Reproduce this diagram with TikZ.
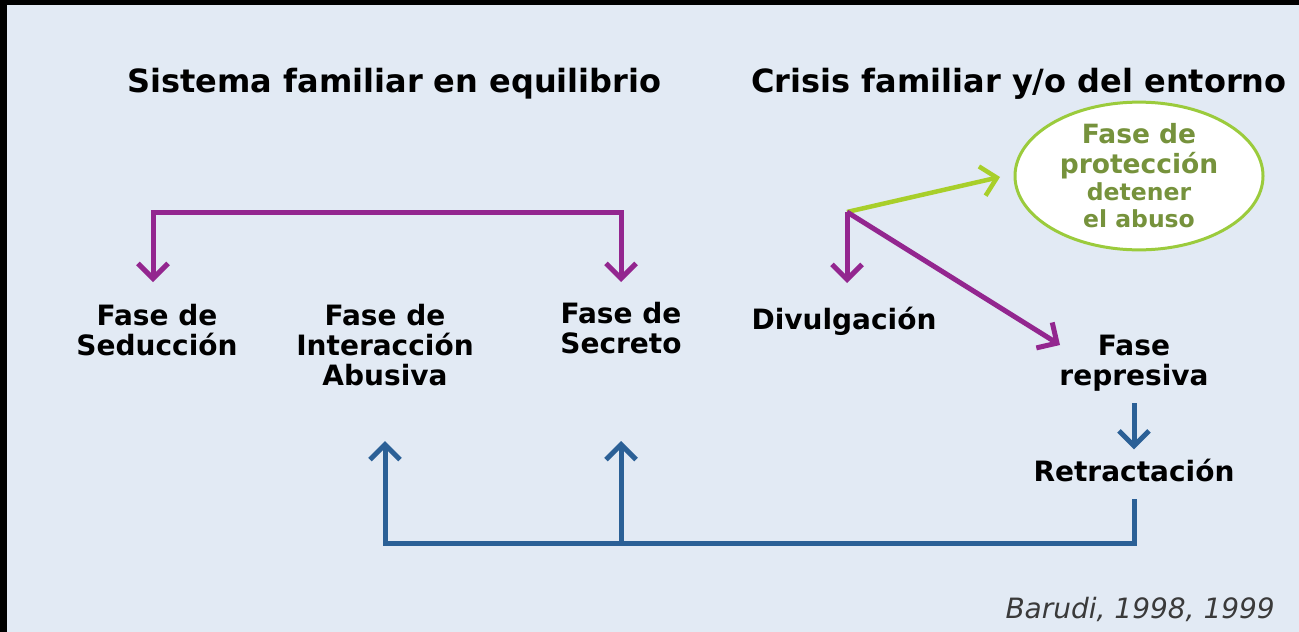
\documentclass[tikz,border=0pt]{standalone}
\usepackage{fontspec}
\setmainfont{DejaVu Sans}
\usetikzlibrary{arrows.meta,shapes.geometric}
\definecolor{bgc}{HTML}{E2EAF4}
\definecolor{purp}{HTML}{93268F}
\definecolor{bluel}{HTML}{2B6096}
\definecolor{limel}{HTML}{A8CF2A}
\definecolor{ellg}{HTML}{9BCB3C}
\definecolor{olivet}{HTML}{76923C}
\definecolor{citec}{HTML}{3A3A3A}
\begin{document}
\begin{tikzpicture}[x=1pt,y=-1pt,
  lbl/.style={font=\fontsize{28}{30}\selectfont\bfseries, align=center, inner sep=0pt, text=black},
  ttl/.style={font=\fontsize{32}{34}\selectfont\bfseries, inner sep=0pt, anchor=base, text=black},
  citestyle/.style={font=\fontsize{28}{30}\selectfont\itshape, inner sep=0pt, anchor=base east, text=citec},
  tip/.style={-{Straight Barb[length=15pt,width=30pt]}},
  pconn/.style={draw=purp, line width=5pt, tip, line join=miter},
  bconn/.style={draw=bluel, line width=5pt, tip, line join=miter},
  gconn/.style={draw=limel, line width=4.5pt, tip},
  prot/.style={ellipse, draw=ellg, fill=white, line width=3pt, minimum width=248pt, minimum height=143pt,
    inner sep=0pt, align=center, text=olivet, font=\fontsize{26.5}{28}\selectfont\bfseries}
]
% background and frame
\fill[bgc] (0,0) rectangle (1299,632);
\fill[black] (0,0) rectangle (1299,5);
\fill[black] (0,0) rectangle (7,632);
\useasboundingbox (0,0) rectangle (1299,632);

% titles
\node[ttl] (t1) at (394.5,92) {Sistema familiar en equilibrio};
\node[ttl] (t2) at (1019,92) {Crisis familiar y/o del entorno};

% labels
\node[lbl] (sed) at (157,330) {Fase de\\Seducción};
\node[lbl] (inter) at (385,345) {Fase de\\Interacción\\Abusiva};
\node[lbl] (secr) at (621,328) {Fase de\\Secreto};
\node[lbl] (div) at (844,321) {Divulgación};
\node[lbl] (rep) at (1134,363) {Fase\\represiva};
\node[lbl] (retr) at (1134,470) {Retractación};
\node[prot] (pro) at (1139,176) {Fase de\\[2pt]protección\\[-1pt]{\fontsize{23.5}{26}\selectfont detener}\\[-1pt]{\fontsize{23.5}{26}\selectfont el abuso}};

\node[citestyle] (cite) at (1275,618) {Barudi, 1998, 1999};

% coordinates
\coordinate (sedin) at (153,282);
\coordinate (secin) at (621,282);
\coordinate (topl) at (153,212);
\coordinate (topr) at (621,212);
\coordinate (hub) at (847,212);
\coordinate (divin) at (847,283);
\coordinate (repin) at (1060,345);
\coordinate (protin) at (1000,177);
\coordinate (r0) at (1134,499);
\coordinate (bl) at (385,543);
\coordinate (bm) at (621,543);
\coordinate (interin) at (385,441);
\coordinate (secup) at (621,441);

% purple top bracket
\draw[pconn, {Straight Barb[length=15pt,width=30pt]}-{Straight Barb[length=15pt,width=30pt]}] (sedin) -- (topl) -- (topr) -- (secin);

% crisis branches
\draw[gconn] (hub) -- (protin);
\draw[pconn] (hub) -- (divin);
\draw[pconn] (hub) -- (repin);

% blue
\draw[bconn] ([yshift=-12pt]rep.south) -- ([yshift=9pt]retr.north);
\draw[bconn] (r0) |- (bl) -- (interin);
\draw[bconn] (bm) -- (secup);
\end{tikzpicture}
\end{document}
